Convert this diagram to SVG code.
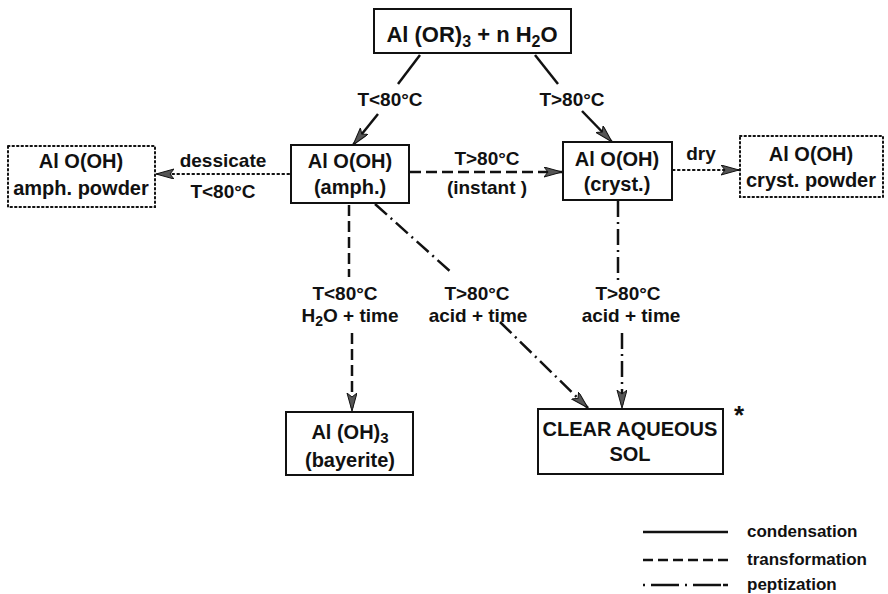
<svg xmlns="http://www.w3.org/2000/svg" width="888" height="594" viewBox="0 0 888 594">
<defs>
<marker id="ah" markerUnits="userSpaceOnUse" markerWidth="20" markerHeight="12" refX="18" refY="5" orient="auto">
<path d="M0,0 L18,5 L0,10 L4,5 Z" fill="#555" stroke="#111" stroke-width="1"/>
</marker>
<style>
text{font-family:"Liberation Sans",Arial,sans-serif;font-weight:bold;fill:#111;text-anchor:middle}
.bt{font-size:20px}
.lb{font-size:19px}
.lg{font-size:17px;text-anchor:start}
.box{fill:#fff;stroke:#111;stroke-width:2}
.dbox{fill:none;stroke:#111;stroke-width:2;stroke-dasharray:1.5 3;stroke-linecap:round}
.c{fill:none;stroke:#111;stroke-width:2.5}
.solid{}
.dash{stroke-dasharray:11 5}
.dot{stroke-dasharray:1.5 3.5;stroke-linecap:round;stroke-width:2.2}
.dd{stroke-dasharray:16 5 2 5}
.arr{marker-end:url(#ah)}
</style>
</defs>
<rect width="888" height="594" fill="#fff"/>

<g id="connectors">
<path class="c solid" d="M420,55 L398,84"/>
<path class="c solid arr" d="M378,114 L353,145"/>
<path class="c solid" d="M535,55 L558,84"/>
<path class="c solid arr" d="M582,111 L612,142"/>
<path class="c dot arr" d="M289,174 L156,174"/>
<path class="c dash arr" d="M410,172 L562,172"/>
<path class="c dot arr" d="M673,170 L739,170"/>
<path class="c dash" d="M349,205 L349,277"/>
<path class="c dash arr" d="M352,333 L352,411"/>
<path class="c dd" d="M375,204 L452,273"/>
<path class="c dd arr" d="M500,322 L588,408"/>
<path class="c dd" d="M618,201 L618,280"/>
<path class="c dd arr" d="M622,333 L622,408"/>
</g>

<g id="labels">
<text class="lb" x="390" y="106">T&lt;80°C</text>
<text class="lb" x="572" y="106">T&gt;80°C</text>
<text class="lb" x="223" y="167">dessicate</text>
<text class="lb" x="223" y="198">T&lt;80°C</text>
<text class="lb" x="487" y="165">T&gt;80°C</text>
<text class="lb" x="487" y="194">(instant )</text>
<text class="lb" x="701" y="160">dry</text>
<text class="lb" x="345" y="300">T&lt;80°C</text>
<text class="lb" x="350" y="322">H<tspan font-size="14" dy="4">2</tspan><tspan dy="-4">O + time</tspan></text>
<text class="lb" x="477" y="300">T&gt;80°C</text>
<text class="lb" x="478" y="322">acid + time</text>
<text class="lb" x="628" y="300">T&gt;80°C</text>
<text class="lb" x="631" y="322">acid + time</text>
</g>

<g id="n-start">
<rect class="box" x="374" y="9" width="197" height="44"/>
<text class="bt" x="472" y="42" style="font-size:22px">Al (OR)<tspan font-size="16" dy="5">3</tspan><tspan dy="-5"> + n H</tspan><tspan font-size="16" dy="5">2</tspan><tspan dy="-5">O</tspan></text>
</g>
<g id="n-amph">
<rect class="box" x="291" y="145" width="118" height="58"/>
<text class="bt" x="350" y="168">Al O(OH)</text>
<text class="bt" x="350" y="194">(amph.)</text>
</g>
<g id="n-cryst">
<rect class="box" x="563" y="142" width="109" height="58"/>
<text class="bt" x="617" y="166">Al O(OH)</text>
<text class="bt" x="617" y="191">(cryst.)</text>
</g>
<g id="n-amph-powder">
<rect class="dbox" x="8" y="146" width="147" height="61"/>
<text class="bt" x="81" y="168">Al O(OH)</text>
<text class="bt" x="81" y="195">amph. powder</text>
</g>
<g id="n-cryst-powder">
<rect class="dbox" x="740" y="136" width="143" height="61"/>
<text class="bt" x="811" y="161">Al O(OH)</text>
<text class="bt" x="811" y="187">cryst. powder</text>
</g>
<g id="n-bayerite">
<rect class="box" x="286" y="412" width="127" height="63"/>
<text class="bt" x="350" y="439">Al (OH)<tspan font-size="15" dy="4">3</tspan></text>
<text class="bt" x="350" y="467">(bayerite)</text>
</g>
<g id="n-sol">
<rect class="box" x="538" y="409" width="185" height="65"/>
<text class="bt" x="630" y="436">CLEAR AQUEOUS</text>
<text class="bt" x="630" y="461">SOL</text>
<text x="739" y="424" style="font-size:26px">*</text>
</g>

<g id="legend">
<path class="c solid" d="M643,532 L728,532"/>
<text class="lg" x="747" y="537">condensation</text>
<path class="c dash" d="M643,560 L728,560" style="stroke-dasharray:10 5"/>
<text class="lg" x="747" y="565">transformation</text>
<path class="c dd" d="M643,585 L728,585" style="stroke-dasharray:2 6 28 6 2 6 28"/>
<text class="lg" x="747" y="590">peptization</text>
</g>
</svg>
